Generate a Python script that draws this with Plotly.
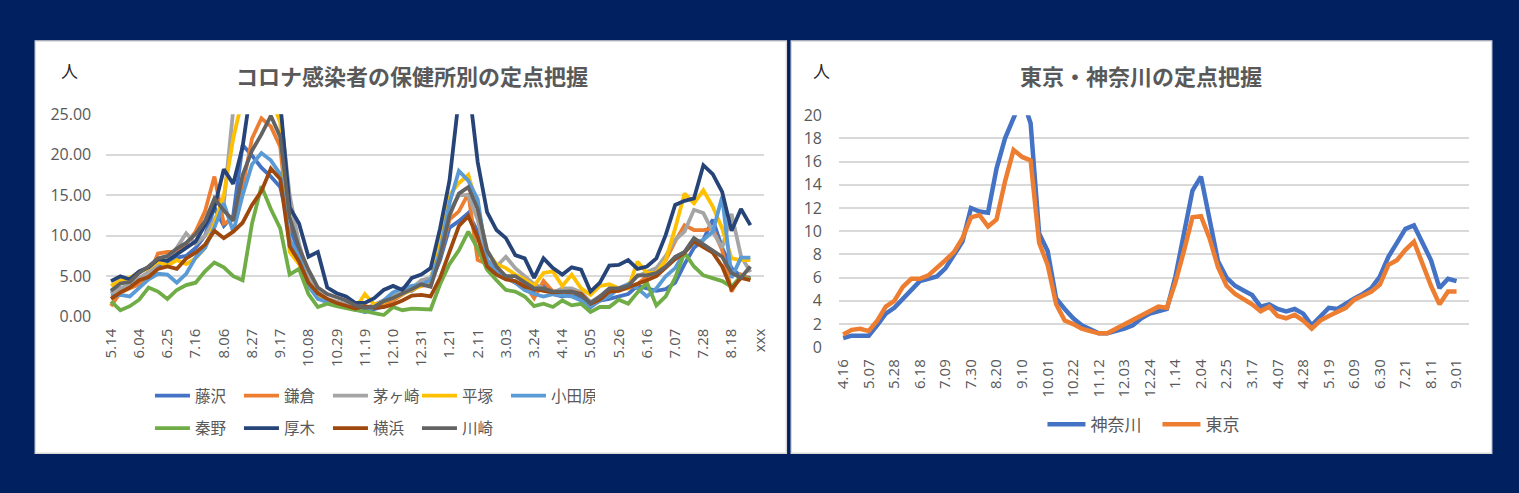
import plotly.graph_objects as go

W, H = 1519, 493
def px(x): return x / W
def py(y): return 1 - y / H

# ---------------- data: left chart ----------------
cats_left = ["5.14","5.21","5.28","6.04","6.11","6.18","6.25","7.02","7.09","7.16",
             "7.23","7.30","8.06","8.13","8.20","8.27","9.03","9.10","9.17","9.24",
             "10.01","10.08","10.15","10.22","10.29","11.05","11.12","11.19","11.26","12.03",
             "12.10","12.17","12.24","12.31","1.07","1.14","1.21","1.28","2.04","2.11",
             "2.18","2.25","3.03","3.10","3.17","3.24","3.31","4.07","4.14","4.21",
             "4.28","5.05","5.12","5.19","5.26","6.02","6.09","6.16","6.23","6.30",
             "7.07","7.14","7.21","7.28","8.04","8.11","8.18","8.25","9.01","xxx"]

fujisawa = [3.0,3.5,3.8,4.5,5.5,6.3,6.5,7.3,7.5,8.5,10.0,13.5,11.2,12.5,21.2,19.9,18.4,17.3,16.0,11.0,
            8.0,5.0,2.8,2.0,1.8,1.5,1.2,0.6,0.9,1.3,2.0,3.0,3.2,4.0,4.2,7.0,11.0,11.8,12.8,10.5,
            6.5,5.5,5.0,4.3,3.5,3.0,3.8,2.8,2.5,2.8,2.2,1.2,2.0,2.2,2.5,2.8,3.8,3.5,3.2,3.4,
            4.2,6.5,8.5,9.5,12.0,8.5,6.0,5.0,4.8,None]
kamakura = [1.3,3.0,3.5,4.0,5.0,7.8,8.0,8.0,9.0,10.5,13.0,17.3,11.5,12.0,16.0,22.0,24.5,23.5,21.0,9.5,
            7.0,4.5,2.8,2.0,1.8,1.5,1.3,1.0,1.3,1.5,2.0,2.8,3.5,3.8,4.0,7.5,12.0,13.0,15.2,7.0,
            6.5,5.5,4.8,4.2,4.0,2.3,4.4,3.1,3.2,3.0,2.8,1.5,2.5,3.0,3.5,3.5,4.0,5.0,5.5,7.0,
            9.3,11.3,10.7,10.7,10.9,8.2,3.1,5.2,4.6,None]
chigasaki = [2.8,3.5,4.0,4.8,5.5,6.5,7.0,8.5,10.3,9.0,10.0,12.0,14.0,25.5,32.0,33.0,30.0,28.0,25.5,15.0,
             9.0,5.0,3.0,2.2,1.8,1.5,1.2,1.0,1.5,2.0,2.5,3.0,3.5,4.5,4.8,8.0,13.0,15.0,15.0,12.0,
             7.0,6.2,7.4,6.0,5.0,4.0,3.5,3.0,3.5,3.5,3.0,1.8,2.5,3.0,3.5,4.0,5.0,5.5,6.0,7.5,
             9.5,10.5,13.2,12.8,10.5,8.5,12.7,7.5,5.5,None]
hiratsuka = [3.8,4.5,4.8,5.5,6.0,6.8,6.3,7.0,6.5,7.2,8.5,11.5,15.0,22.0,27.0,30.0,28.0,27.0,24.0,8.0,
             6.5,3.8,2.5,1.8,1.5,1.3,1.0,2.8,1.5,1.8,2.3,2.8,3.2,3.8,4.5,9.0,15.0,16.5,17.5,13.5,
             8.0,6.5,6.0,5.2,4.6,3.8,5.4,5.6,3.8,5.2,3.5,2.7,3.8,4.0,3.5,3.5,6.8,5.4,5.4,7.0,
             10.9,15.2,14.0,15.6,13.6,10.9,7.2,7.0,7.0,None]
odawara = [2.5,2.7,2.5,3.6,4.6,5.3,5.2,4.2,5.3,7.3,8.5,11.0,14.0,10.5,15.0,18.8,20.2,19.3,17.6,9.5,
           7.5,3.8,2.2,1.8,1.5,1.2,0.8,0.6,1.2,2.0,3.0,3.5,3.8,4.0,4.5,8.0,14.0,18.0,16.8,14.5,
           7.0,5.5,4.8,4.2,3.3,2.8,2.5,2.8,2.6,2.5,2.0,1.3,2.0,2.5,3.5,4.0,3.5,2.5,3.5,5.0,
           6.0,8.0,9.0,9.5,10.5,14.8,4.8,7.3,7.3,None]
hadano = [1.9,0.8,1.3,2.1,3.6,3.1,2.2,3.3,3.9,4.2,5.6,6.7,6.1,5.0,4.5,11.5,16.1,13.3,10.9,5.2,
          5.9,2.8,1.2,1.6,1.3,1.0,0.8,0.7,0.5,0.2,1.2,0.8,1.0,1.0,0.9,4.0,6.5,8.2,10.5,8.4,
          5.8,4.5,3.3,3.1,2.5,1.3,1.6,1.2,2.0,1.4,1.6,0.6,1.2,1.2,2.1,1.6,3.0,4.2,1.4,2.5,
          4.8,7.9,6.2,5.1,4.8,4.4,3.7,5.0,4.6,None]
atsugi = [4.4,5.0,4.6,5.6,6.1,7.1,6.9,7.7,8.4,9.3,11.3,13.5,18.2,16.4,21.0,29.0,32.0,31.0,26.5,13.5,
          11.5,7.4,8.0,3.6,2.9,2.5,1.7,1.7,2.3,3.3,3.8,3.3,4.8,5.2,6.0,10.9,16.8,27.0,29.0,19.1,
          12.9,10.7,9.7,7.6,7.2,4.8,7.2,6.0,5.2,6.1,5.8,3.1,4.2,6.3,6.4,7.0,5.9,6.2,7.2,10.1,
          13.8,14.3,14.6,18.7,17.6,15.4,10.6,13.3,11.3,None]
yokohama = [2.2,3.0,3.6,4.5,4.9,5.9,6.2,5.9,7.2,7.9,8.9,10.6,9.7,10.5,11.6,13.8,15.5,18.3,17.0,8.7,
            6.8,4.2,2.9,2.2,1.7,1.3,1.0,1.3,1.1,1.2,1.5,2.0,2.6,2.7,2.5,4.8,8.1,11.2,12.4,9.8,
            6.2,5.2,4.6,4.4,3.7,3.4,3.2,3.0,3.0,3.1,2.8,1.6,2.1,3.1,3.2,3.6,4.0,4.5,5.0,6.0,
            7.1,7.9,9.3,8.6,7.9,6.2,3.4,4.8,4.5,None]
kawasaki = [3.2,4.1,4.3,5.4,6.2,7.2,7.5,8.4,9.1,10.2,11.8,14.6,13.1,11.9,17.5,20.5,22.5,24.8,22.2,12.3,
            8.5,5.8,3.6,2.8,2.4,2.0,1.4,1.1,1.2,1.9,2.3,2.8,3.4,4.0,3.7,7.4,12.5,15.2,16.0,13.3,
            8.2,6.2,5.0,5.0,4.2,3.5,3.5,3.1,3.1,3.1,2.6,1.7,2.5,3.5,3.5,3.8,5.1,5.1,5.4,6.2,
            7.4,8.0,9.7,8.9,8.2,7.4,5.4,4.8,6.2,None]

left_names = ["藤沢","鎌倉","茅ヶ崎","平塚","小田原","秦野","厚木","横浜","川崎"]
left_series = [fujisawa, kamakura, chigasaki, hiratsuka, odawara, hadano, atsugi, yokohama, kawasaki]
left_colors = ["#4472C4","#ED7D31","#A5A5A5","#FFC000","#5B9BD5","#70AD47","#264478","#9E480E","#636363"]

# ---------------- data: right chart ----------------
cats_right = ["4.16","4.23","4.30","5.07","5.14","5.21","5.28","6.04","6.11","6.18",
              "6.25","7.02","7.09","7.16","7.23","7.30","8.06","8.13","8.20","8.27",
              "9.03","9.10","9.17","9.24","10.01","10.08","10.15","10.22","10.29","11.05",
              "11.12","11.19","11.26","12.03","12.10","12.17","12.24","12.31","1.07","1.14",
              "1.21","1.28","2.04","2.11","2.18","2.25","3.03","3.10","3.17","3.24",
              "3.31","4.07","4.14","4.21","4.28","5.05","5.12","5.19","5.26","6.02",
              "6.09","6.16","6.23","6.30","7.07","7.14","7.21","7.28","8.04","8.11",
              "8.18","8.25","9.01","9.08"]
kanagawa = [0.8,1.0,1.0,1.0,1.9,2.9,3.4,4.2,4.9,5.7,5.9,6.1,6.8,7.9,9.1,12.0,11.7,11.6,15.4,18.0,
            19.9,21.5,19.3,9.8,8.3,4.2,3.3,2.5,1.9,1.5,1.2,1.2,1.4,1.6,1.9,2.5,2.9,3.1,3.3,6.1,
            9.7,13.5,14.7,10.8,7.4,6.0,5.3,4.9,4.5,3.5,3.7,3.3,3.1,3.3,2.9,1.9,2.7,3.4,3.3,3.8,
            4.2,4.6,5.1,6.1,7.8,9.0,10.2,10.5,9.1,7.5,5.1,5.9,5.7,None]
tokyo = [1.1,1.5,1.6,1.4,2.3,3.5,4.0,5.2,5.9,5.9,6.2,6.8,7.5,8.2,9.4,11.2,11.4,10.4,11.0,14.3,
         17.0,16.4,16.1,9.0,7.1,3.7,2.3,2.0,1.6,1.4,1.2,1.2,1.6,1.9,2.3,2.7,3.2,3.5,3.4,5.6,
         8.3,11.2,11.3,9.4,6.9,5.3,4.6,4.2,3.7,3.1,3.5,2.7,2.5,2.8,2.3,1.6,2.3,2.7,3.0,3.4,
         4.1,4.5,4.8,5.4,7.1,7.5,8.4,9.1,7.2,5.3,3.7,4.8,4.8,None]
right_names = ["神奈川","東京"]
right_series = [kanagawa, tokyo]
right_colors = ["#4472C4","#ED7D31"]

title_left = "コロナ感染者の保健所別の定点把握"
title_right = "東京・神奈川の定点把握"
unit_label = "人"

# ---------------- figure ----------------
NAVY = "#002060"
GRID = "#D9D9D9"
TXT = "#595959"
JP = "Noto Sans CJK JP"
NUM = "Open Sans, Noto Sans CJK JP"

fig = go.Figure()

for i, (name, vals, col) in enumerate(zip(left_names, left_series, left_colors)):
    fig.add_trace(go.Scatter(
        x=cats_left, y=vals, name=name, mode="lines",
        line=dict(color=col, width=3.8), xaxis="x", yaxis="y",
        legend="legend" if i < 5 else "legend2",
        hoverinfo="skip"))

for name, vals, col in zip(right_names, right_series, right_colors):
    fig.add_trace(go.Scatter(
        x=cats_right, y=vals, name=name, mode="lines",
        line=dict(color=col, width=4.5), xaxis="x2", yaxis="y2",
        legend="legend3", hoverinfo="skip"))

tick_font = dict(family=NUM, size=16, color=TXT)
xtick_font = dict(family=NUM, size=15, color=TXT)

fig.update_layout(
    width=W, height=H, autosize=False,
    margin=dict(l=0, r=0, t=0, b=0),
    paper_bgcolor=NAVY, plot_bgcolor="white",
    xaxis=dict(domain=[px(100), px(763)], anchor="y", type="category",
               categoryorder="array", categoryarray=cats_left,
               range=[-0.5, len(cats_left) - 0.5],
               tickmode="array", tickvals=cats_left[::3], ticktext=cats_left[::3],
               tickangle=-90, showgrid=False, zeroline=False, showline=False,
               ticks="", tickfont=xtick_font, ticklabelstandoff=8),
    yaxis=dict(domain=[py(320), py(108)], anchor="x", range=[0, 25], dtick=5,
               tickformat=".2f", showgrid=True, gridcolor=GRID, gridwidth=1.6,
               zeroline=False, showline=False, ticks="", tickfont=tick_font,
               ticklabelstandoff=14),
    xaxis2=dict(domain=[px(838), px(1473)], anchor="y2", type="category",
                categoryorder="array", categoryarray=cats_right,
                range=[-0.5, len(cats_right) - 0.5],
                tickmode="array", tickvals=cats_right[:-1:3], ticktext=cats_right[:-1:3],
                tickangle=-90, showgrid=False, zeroline=False, showline=False,
                ticks="", tickfont=xtick_font, ticklabelstandoff=8),
    yaxis2=dict(domain=[py(352), py(109)], anchor="x2", range=[0, 20], dtick=2,
                showgrid=True, gridcolor=GRID, gridwidth=1.6,
                zeroline=False, showline=False, ticks="", tickfont=tick_font,
                ticklabelstandoff=16),
    legend=dict(orientation="h", x=px(144), y=py(403), xanchor="left", yanchor="middle",
                font=dict(family=JP, size=15.5, color=TXT), itemwidth=35,
                entrywidth=39, bgcolor="rgba(0,0,0,0)", traceorder="normal"),
    legend2=dict(orientation="h", x=px(144), y=py(437), xanchor="left", yanchor="middle",
                 font=dict(family=JP, size=15.5, color=TXT), itemwidth=35,
                 entrywidth=39, bgcolor="rgba(0,0,0,0)", traceorder="normal"),
    legend3=dict(orientation="h", x=px(1043), y=py(433), xanchor="left", yanchor="middle",
                 font=dict(family=JP, size=17, color=TXT), itemwidth=38,
                 entrywidth=62, bgcolor="rgba(0,0,0,0)", traceorder="normal"),
    showlegend=True,
)

# white panels
fig.add_shape(type="rect", xref="paper", yref="paper",
              x0=px(28.5), x1=px(785), y0=py(463), y1=py(31.5),
              fillcolor="white", line=dict(color=GRID, width=1.5), layer="below")
fig.add_shape(type="rect", xref="paper", yref="paper",
              x0=px(790), x1=px(1495.5), y0=py(463), y1=py(31.5),
              fillcolor="white", line=dict(color=GRID, width=1.5), layer="below")

# titles and unit labels
fig.add_annotation(text=title_left, xref="paper", yref="paper", x=px(408), y=py(67),
                   showarrow=False, xanchor="center", yanchor="middle",
                   font=dict(family=JP, size=22, color=TXT, weight="bold"))
fig.add_annotation(text=title_right, xref="paper", yref="paper", x=px(1142), y=py(67),
                   showarrow=False, xanchor="center", yanchor="middle",
                   font=dict(family=JP, size=22, color=TXT, weight="bold"))
fig.add_annotation(text=unit_label, xref="paper", yref="paper", x=px(63), y=py(62),
                   showarrow=False, xanchor="center", yanchor="middle",
                   font=dict(family=JP, size=17, color="#262626"))
fig.add_annotation(text=unit_label, xref="paper", yref="paper", x=px(820), y=py(62),
                   showarrow=False, xanchor="center", yanchor="middle",
                   font=dict(family=JP, size=17, color="#262626"))

post = ("document.body.style.margin='0';document.body.style.padding='0';"
        "document.documentElement.style.margin='0';"
        "document.documentElement.style.overflow='hidden';"
        "document.body.style.overflow='hidden';")
fig.write_html("out.html", post_script=post, config={"displayModeBar": False})
